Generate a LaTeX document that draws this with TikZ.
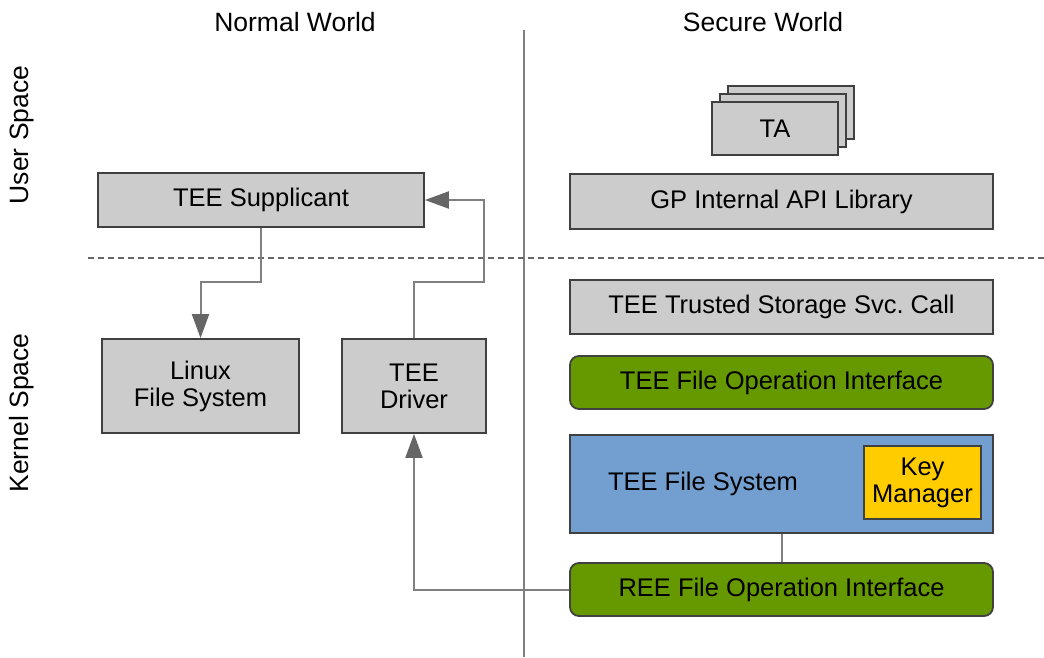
\documentclass[tikz,border=0pt]{standalone}
\usepackage{fontspec}
\setmainfont{Liberation Sans}
\usetikzlibrary{arrows.meta}
\definecolor{boxgray}{HTML}{CCCCCC}
\definecolor{edgec}{HTML}{404040}
\definecolor{greenfill}{HTML}{669900}
\definecolor{skyfill}{HTML}{729FCF}
\definecolor{goldfill}{HTML}{FFCC00}
\definecolor{wirec}{HTML}{808080}
\definecolor{tipc}{HTML}{666666}
\begin{document}
\begin{tikzpicture}[x=1pt,y=-1pt,
  font=\fontsize{25.5}{27}\selectfont,
  blk/.style={draw=edgec, line width=1.8pt, fill=boxgray, inner sep=0pt, align=center},
  grn/.style={blk, fill=greenfill, rounded corners=9pt},
  wire/.style={draw=wirec, line width=2pt},
  arr/.style={wire, -{Triangle[length=24pt,width=17pt,fill=tipc,color=tipc]}},
  lbl/.style={inner sep=0pt},
  head/.style={lbl, font=\fontsize{26.5}{28}\selectfont}
]
\useasboundingbox (0,0) rectangle (1044,657);
\fill[white] (0,0) rectangle (1044,657);

% world labels
\node[head] (nw) at (295,22) {Normal World};
\node[head] (sw) at (763,22) {Secure World};
\node[head, rotate=90] (us) at (22,135) {User Space};
\node[head, rotate=90] (ks) at (22,413) {Kernel Space};

% separators
\draw[wirec, line width=2pt] (524,30) -- (524,657);
\draw[tipc, line width=2pt, dash pattern=on 6pt off 4pt] (88,258) -- (1044,258);

% normal world
\node[blk, minimum width=326pt, minimum height=54pt] (sup) at (261,200) {TEE Supplicant};
\node[blk, minimum width=197pt, minimum height=94pt] (lfs) at (200.5,386) {Linux\\File System};
\node[blk, minimum width=144pt, minimum height=94pt] (drv) at (414,386) {TEE\\Driver};

% secure world
\node[blk, minimum width=126pt, minimum height=53pt] (ta3) at (791,112.5) {};
\node[blk, minimum width=126pt, minimum height=53pt] (ta2) at (783,120.5) {};
\node[blk, minimum width=126pt, minimum height=53pt] (ta1) at (775,128.5) {TA};
\node[blk, minimum width=423pt, minimum height=55pt] (gp) at (781.5,201.5) {GP Internal API Library};
\node[blk, minimum width=423pt, minimum height=54pt] (tss) at (781.5,307) {TEE Trusted Storage Svc.\ Call};
\node[grn, minimum width=423pt, minimum height=53pt] (tfoi) at (781.5,382.5) {TEE File Operation Interface};
\node[blk, fill=skyfill, minimum width=423pt, minimum height=98pt] (tfs) at (781.5,484) {};
\node[lbl] (tfst) at (703,484) {TEE File System};
\node[blk, fill=goldfill, minimum width=117pt, minimum height=73pt] (km) at (922.5,482.5) {Key\\Manager};
\node[grn, minimum width=423pt, minimum height=53pt] (ree) at (781.5,589.5) {REE File Operation Interface};

% connectors
\coordinate (j1) at (261,282);
\coordinate (j2) at (484,282);
\draw[arr] (sup.south) -- (j1) -| (lfs.north);
\draw[arr] (drv.north) |- (j2) -- (j2 |- sup.east) -- (sup.east);
\draw[arr] (ree.west) -| (drv.south);
\draw[wire] (tfs.south) -- (ree.north);
\end{tikzpicture}
\end{document}
